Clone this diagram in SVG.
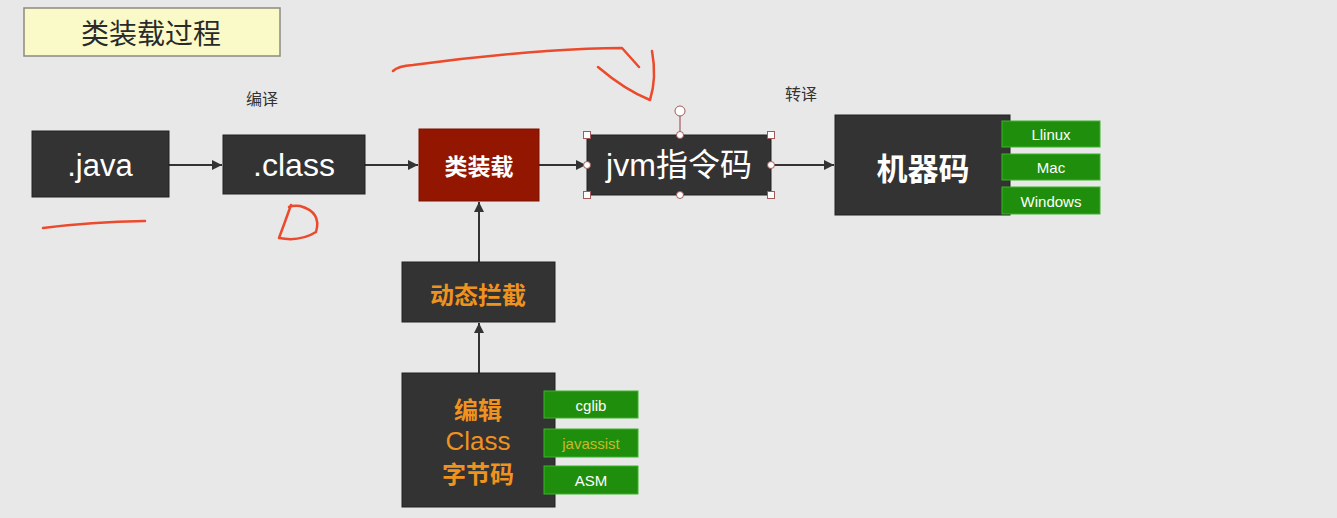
<svg xmlns="http://www.w3.org/2000/svg" width="1337" height="518" viewBox="0 0 1337 518">
<defs>
<marker id="ah" viewBox="0 0 10 10" refX="10" refY="5" markerWidth="10" markerHeight="10" markerUnits="userSpaceOnUse" orient="auto">
<path d="M0,0 L10,5 L0,10 z" fill="#333"/>
</marker>
<style>
.dk{fill:#333333;stroke:#222;stroke-width:1}
.gr{fill:#1f8e0c;stroke:#3bb52a;stroke-width:1}
.wt{fill:#fff;font-family:"Liberation Sans","Noto Sans CJK SC",sans-serif;text-anchor:middle;dominant-baseline:central}
.cj{fill:#fff;font-family:"Noto Sans CJK SC",sans-serif;text-anchor:middle;dominant-baseline:central}
.or{fill:#f0921e;font-family:"Noto Sans CJK SC",sans-serif;font-weight:bold;text-anchor:middle;dominant-baseline:central}
.gl{fill:#fff;font-family:"Liberation Sans",sans-serif;font-size:15px;text-anchor:middle;dominant-baseline:central}
.lb{fill:#333;font-family:"Noto Sans CJK SC",sans-serif;font-size:16px;text-anchor:middle;dominant-baseline:central}
.cn{stroke:#333;stroke-width:2;fill:none;marker-end:url(#ah)}
.red{stroke:#ec4a2c;stroke-width:2.5;fill:none;stroke-linecap:round;stroke-linejoin:round}
.hd{fill:#fff;stroke:#a05a5a;stroke-width:1}
</style>
</defs>
<rect width="1337" height="518" fill="#e8e8e8"/>

<g id="title">
<rect x="24" y="8" width="256" height="48" fill="#fafac8" stroke="#8a8a80" stroke-width="1.5"/>
<text x="151" y="32" class="cj" style="fill:#2a2a2a;font-size:28px">类装载过程</text>
</g>

<g id="label-compile"><text x="262" y="98" class="lb">编译</text></g>
<g id="label-translate"><text x="801" y="93" class="lb">转译</text></g>

<g id="connectors">
<line x1="169" y1="165" x2="222" y2="165" class="cn"/>
<line x1="365" y1="165" x2="418" y2="165" class="cn"/>
<line x1="539" y1="165" x2="586" y2="165" class="cn"/>
<line x1="772" y1="165" x2="834" y2="165" class="cn"/>
<line x1="479" y1="262" x2="479" y2="202" class="cn"/>
<line x1="479" y1="373" x2="479" y2="323" class="cn"/>
</g>

<g id="java">
<rect x="32" y="131" width="137" height="66" class="dk"/>
<text x="100" y="165" class="wt" style="font-size:31px">.java</text>
</g>

<g id="class">
<rect x="223" y="135" width="142" height="59" class="dk"/>
<text x="294" y="165" class="wt" style="font-size:32px">.class</text>
</g>

<g id="classload">
<rect x="419" y="129" width="120" height="72" fill="#931600" stroke="#7a1200" stroke-width="1"/>
<text x="479" y="165" class="cj" style="font-size:23px;font-weight:bold">类装载</text>
</g>

<g id="jvm">
<rect x="587" y="135" width="184" height="60" class="dk"/>
<text x="679" y="165" class="wt" style="font-size:32px">jvm指令码</text>
<line x1="680" y1="115" x2="680" y2="135" stroke="#a05a5a" stroke-width="1.2"/>
<circle cx="680" cy="111" r="5" class="hd"/>
<rect x="583.5" y="131.5" width="7" height="7" class="hd"/>
<rect x="767.5" y="131.5" width="7" height="7" class="hd"/>
<rect x="583.5" y="191.5" width="7" height="7" class="hd"/>
<rect x="767.5" y="191.5" width="7" height="7" class="hd"/>
<circle cx="680" cy="135" r="3.5" class="hd"/>
<circle cx="680" cy="195" r="3.5" class="hd"/>
<circle cx="587" cy="165" r="3.5" class="hd"/>
<circle cx="771" cy="165" r="3.5" class="hd"/>
</g>

<g id="machine">
<rect x="835" y="115" width="175" height="100" class="dk"/>
<text x="923" y="166" class="cj" style="font-size:31px;font-weight:bold">机器码</text>
</g>
<g id="linux"><rect x="1002" y="121" width="98" height="26" class="gr"/><text x="1051" y="134" class="gl">Llinux</text></g>
<g id="mac"><rect x="1002" y="154" width="98" height="26" class="gr"/><text x="1051" y="167" class="gl">Mac</text></g>
<g id="windows"><rect x="1002" y="187" width="98" height="27" class="gr"/><text x="1051" y="201" class="gl">Windows</text></g>

<g id="intercept">
<rect x="402" y="262" width="153" height="60" class="dk"/>
<text x="478" y="293" class="or" style="font-size:24px">动态拦截</text>
</g>

<g id="edit">
<rect x="402" y="373" width="153" height="134" class="dk"/>
<text x="478" y="408" class="or" style="font-size:24px">编辑</text>
<text x="478" y="441" class="or" style="font-size:26px;font-family:'Liberation Sans',sans-serif;font-weight:normal">Class</text>
<text x="478" y="472" class="or" style="font-size:24px">字节码</text>
</g>
<g id="cglib"><rect x="544" y="391" width="94" height="27" class="gr"/><text x="591" y="405" class="gl">cglib</text></g>
<g id="javassist"><rect x="544" y="429" width="94" height="28" class="gr"/><text x="591" y="443" class="gl" style="fill:#c9b92a">javassist</text></g>
<g id="asm"><rect x="544" y="466" width="94" height="28" class="gr"/><text x="591" y="480" class="gl">ASM</text></g>

<g id="annotations">
<path class="red" d="M43,228 Q90,222 145,221"/>
<path class="red" d="M291,205 Q285,222 279,238 Q300,242 316,232 Q322,212 300,206 Q294,205 289,207"/>
<path class="red" d="M393,71 Q398,66 413,65 Q480,56 547,51 Q590,48 622,48 L639,67"/>
<path class="red" d="M598,67 Q625,90 650,100 Q657,78 652,51"/>
</g>
</svg>
